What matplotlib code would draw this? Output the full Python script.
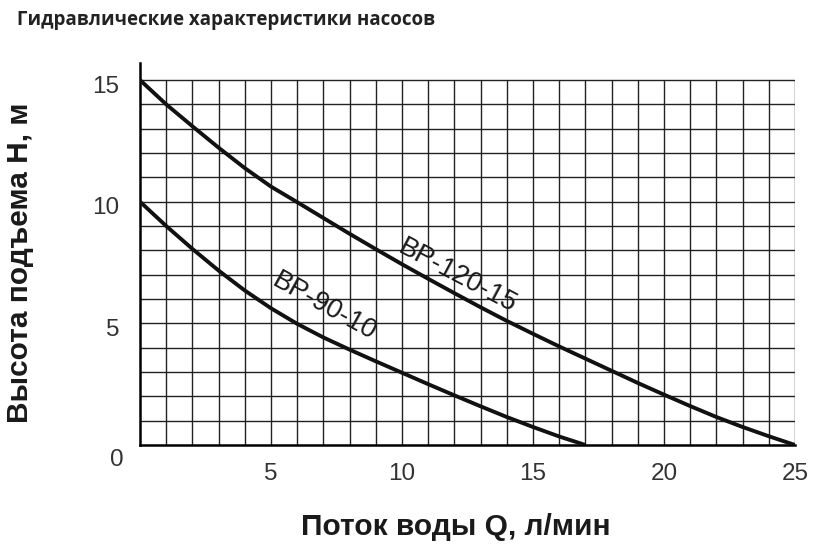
import matplotlib
matplotlib.use('Agg')
import matplotlib.pyplot as plt
import matplotlib.transforms as mtransforms

# расход, л/мин
q_120 = [0, 1, 2, 3, 4, 5, 6, 7, 8, 9, 10, 11, 12, 13, 14, 15, 16, 17, 18, 19, 20, 21, 22, 23, 24, 25]
h_120 = [15.0, 14.0, 13.1, 12.22, 11.38, 10.62, 9.98, 9.33, 8.68, 8.05, 7.43, 6.83, 6.24, 5.66, 5.1,
         4.57, 4.05, 3.55, 3.05, 2.55, 2.07, 1.6, 1.15, 0.74, 0.36, 0.0]

q_90 = [0, 1, 2, 3, 4, 5, 6, 7, 8, 9, 10, 11, 12, 13, 14, 15, 16, 17]
h_90 = [10.0, 9.0, 8.06, 7.17, 6.35, 5.62, 4.98, 4.42, 3.92, 3.44, 2.97, 2.5, 2.04, 1.59, 1.15, 0.74, 0.35, 0.0]

x_ticks = [5, 10, 15, 20, 25]
y_ticks = [5, 10, 15]

label_120 = 'BP-120-15'
label_90 = 'BP-90-10'

tick_font = ['Liberation Sans Narrow', 'Liberation Sans', 'DejaVu Sans']

fig = plt.figure(figsize=(8.2, 5.56), dpi=100)
ax = fig.add_axes([140 / 820, 111 / 556, 655 / 820, 382 / 556])

# сетка 1x1
ax.vlines(range(1, 26), 0, 15, color='#222222', lw=1.0, zorder=1)
ax.hlines(range(1, 16), 0, 25, color='#222222', lw=1.0, zorder=1)

# кривые насосов
ax.plot(q_120, h_120, color='#111111', lw=2.8, solid_capstyle='butt', zorder=3)
ax.plot(q_90, h_90, color='#111111', lw=2.8, solid_capstyle='butt', zorder=3)

ax.text(12.1, 6.95, label_120, rotation=-28, ha='center', va='center',
        fontsize=19.5, family=['Liberation Sans', 'DejaVu Sans'], color='#1a1a1a', zorder=4)
ax.text(7.05, 5.7, label_90, rotation=-29, ha='center', va='center',
        fontsize=19.5, family=['Liberation Sans', 'DejaVu Sans'], color='#1a1a1a', zorder=4)

ax.set_xlim(0, 25)
ax.set_ylim(0, 15.7)

for s in ['top', 'right']:
    ax.spines[s].set_visible(False)
ax.spines['left'].set_linewidth(1.8)
ax.spines['bottom'].set_linewidth(1.8)
ax.spines['bottom'].set_bounds(0, 25)

ax.set_xticks(x_ticks)
ax.set_xticklabels([str(v) for v in x_ticks])
ax.set_yticks(y_ticks)
ax.set_yticklabels([str(v) for v in y_ticks])
ax.tick_params(length=0, labelsize=17.5, labelcolor='#333333')
ax.tick_params(axis='x', pad=13)
ax.tick_params(axis='y', pad=15)
for lab in ax.get_xticklabels() + ax.get_yticklabels():
    lab.set_family(tick_font)
off = mtransforms.ScaledTranslation(0, -4 / 100, fig.dpi_scale_trans)
for lab in ax.get_yticklabels():
    lab.set_transform(lab.get_transform() + off)

# ноль в углу
ax.annotate('0', xy=(0, 0), xytext=(-17, -11), textcoords='offset points',
            ha='center', va='center', fontsize=17.5, color='#333333', family=tick_font,
            annotation_clip=False)

ax.set_xlabel('Поток воды Q, л/мин', fontsize=21.5, fontweight='bold',
              family=['Liberation Sans', 'DejaVu Sans'], color='#1a1a1a')
ax.set_ylabel('Высота подъема H, м', fontsize=21.5, fontweight='bold',
              family=['Liberation Sans', 'DejaVu Sans'], color='#1a1a1a')
ax.xaxis.set_label_coords((456 - 140) / 655, -68 / 382)
ax.yaxis.set_label_coords(-106 / 655, (445 - 263) / 382)

fig.text(17 / 820, 1 - 20 / 556, 'Гидравлические характеристики насосов', fontsize=13.5,
         fontweight='bold', family=['Open Sans', 'DejaVu Sans'], color='#222222',
         ha='left', va='center')

plt.savefig('out.png', dpi=100)
